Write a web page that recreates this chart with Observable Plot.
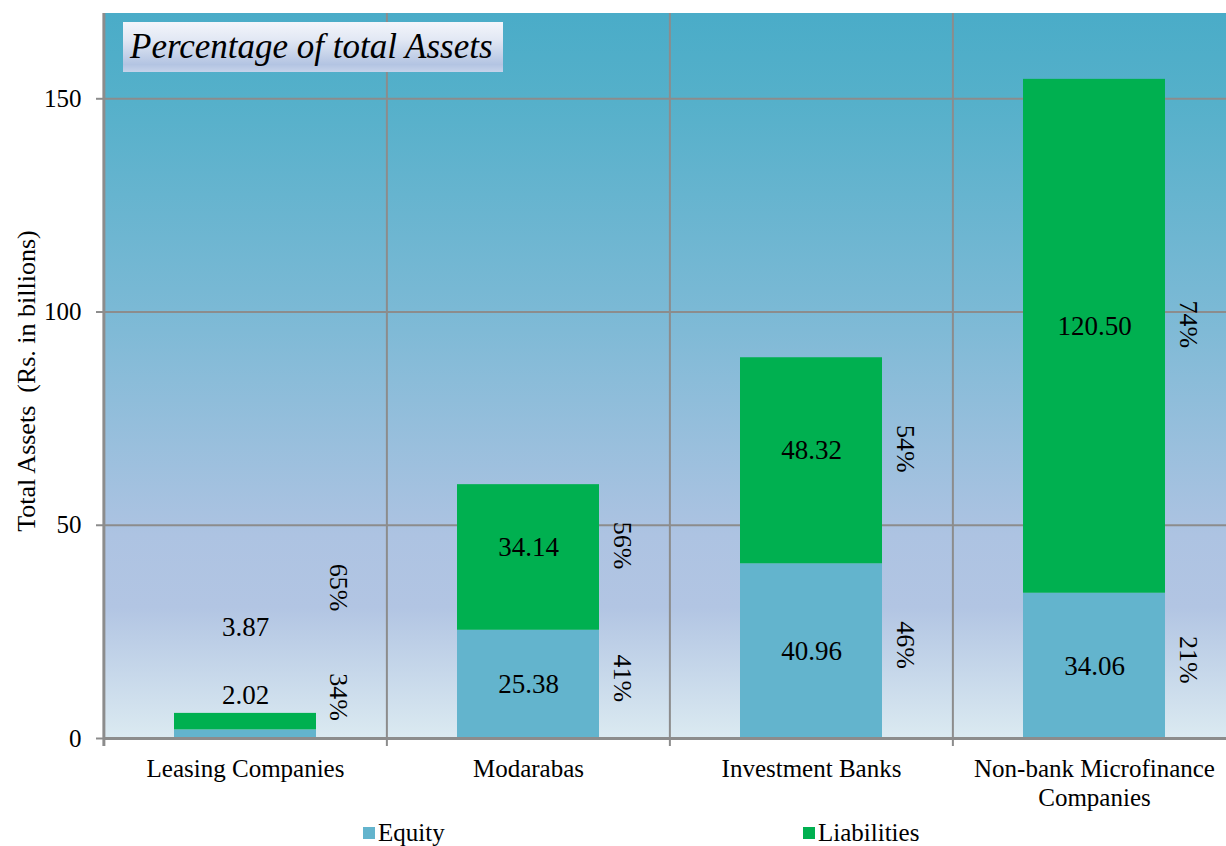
<!DOCTYPE html>
<html><head><meta charset="utf-8">
<script src="https://cdn.jsdelivr.net/npm/d3@7"></script>
<script src="https://cdn.jsdelivr.net/npm/@observablehq/plot@0.6"></script>
<style>
body{margin:0;background:#fff;font-family:"Liberation Serif","Times New Roman",serif;overflow:hidden}
#wrap{position:relative;width:1226px;height:846px;overflow:hidden}
#chart{position:absolute;left:0;top:0;width:1236px}
#chart svg{max-width:none !important}
#chart text{font-family:"Liberation Serif","Times New Roman",serif}
#title{position:absolute;left:123px;top:22px;width:380px;height:50px;background:linear-gradient(#f3f5fb,#e2e8f4 35%,#b3c4e2 85%,#c6d3ea);font-style:italic;font-size:35px;line-height:50px;padding-left:7px;box-sizing:border-box;color:#000;white-space:nowrap}
#legend{position:absolute;top:819px;left:0;width:1226px;height:28px;font-size:25px;color:#000}
.item{position:absolute;top:0;display:flex;align-items:center;height:28px}
.sw{width:12px;height:12px;margin-right:3px}
</style></head><body>
<div id="wrap"><div id="chart"></div><div id="title">Percentage of total Assets</div><div id="legend"></div></div>
<script>
// ---- data ----
const categories = ["Leasing Companies", "Modarabas", "Investment Banks", "Non-bank Microfinance\nCompanies"];
const equity = [2.02, 25.38, 40.96, 34.06];
const liabilities = [3.87, 34.14, 48.32, 120.50];
const equityPct = ["34%", "41%", "46%", "21%"];
const liabilitiesPct = ["65%", "56%", "54%", "74%"];
const series = ["Equity", "Liabilities"];
const colors = ["#63b4cd", "#00b050"];
const yTicks = [0, 50, 100, 150];
const yTitle = "Total Assets  (Rs. in billions)";

// ---- table ----
const rows = [];
categories.forEach((c, i) => {
  rows.push({category: c, idx: i, series: "Equity", value: equity[i], pct: equityPct[i], mid: equity[i] / 2});
  rows.push({category: c, idx: i, series: "Liabilities", value: liabilities[i], pct: liabilitiesPct[i], mid: equity[i] + liabilities[i] / 2});
});

const W = 1236, H = 818, ML = 103, MR = 0, MT = 13, MB = 80;
const step = (W - ML - MR) / categories.length;
const grid = "#8c8c8c";
const serif = "Liberation Serif";

const sel = (s, small) => rows.filter(d => d.series === s && (small ? d.idx === 0 : d.idx > 0));
const fmt = d => d.value.toFixed(2);

const background = (index, scales, values, dims) => {
  const g = d3.create("svg:g");
  const lg = g.append("defs").append("linearGradient").attr("id", "bgGrad")
    .attr("x1", 0).attr("y1", 0).attr("x2", 0).attr("y2", 1);
  [[0, "#4aacc8"], [0.12, "#55b0ca"], [0.41, "#7bb9d5"], [0.72, "#adc3e2"], [0.82, "#b2c5e3"], [1, "#dbeaf1"]]
    .forEach(([o, c]) => lg.append("stop").attr("offset", o).attr("stop-color", c));
  g.append("rect").attr("x", dims.marginLeft).attr("y", dims.marginTop)
    .attr("width", dims.width - dims.marginLeft - dims.marginRight)
    .attr("height", dims.height - dims.marginTop - dims.marginBottom)
    .attr("fill", "url(#bgGrad)");
  return g.node();
};

const chart = Plot.plot({
  width: W, height: H,
  marginLeft: ML, marginRight: MR, marginTop: MT, marginBottom: MB,
  style: {fontFamily: "'Liberation Serif', 'Times New Roman', serif", color: "#000", background: "transparent", overflow: "visible", maxWidth: "none"},
  x: {domain: categories, paddingInner: 0.5, paddingOuter: 0.25, axis: null},
  y: {domain: [0, 170], axis: null},
  color: {domain: series, range: colors},
  marks: [
    background,
    Plot.ruleY(yTicks.slice(1), {stroke: grid, strokeWidth: 2}),
    Plot.ruleX(categories.slice(1), {dx: -step / 2, insetBottom: -8, stroke: grid, strokeWidth: 2}),
    Plot.barY(rows, {x: "category", y: "value", fill: "series"}),
    Plot.ruleX([categories[0]], {dx: -step / 2, insetBottom: -8, stroke: grid, strokeWidth: 3}),
    Plot.ruleY([0], {stroke: grid, strokeWidth: 3}),
    Plot.axisY(yTicks, {tickSize: 7, tickPadding: 15, fontSize: 25, fontFamily: serif, stroke: grid, strokeWidth: 2, fill: "#000", label: null}),
    Plot.axisX({tickSize: 0, tickPadding: 18, fontSize: 25, fontFamily: serif, lineHeight: 1.16, fill: "#000", label: null}),
    Plot.text([yTitle], {frameAnchor: "left", textAnchor: "middle", text: d => d, rotate: -90, dx: -77, dy: 5, fontSize: 26, fontFamily: serif, fill: "#000"}),
    // value labels
    Plot.text(sel("Equity"), {x: "category", y: "mid", text: fmt, fontSize: 27, fontFamily: serif, fill: "#000"}),
    Plot.text(sel("Liabilities"), {x: "category", y: "mid", text: fmt, fontSize: 27, fontFamily: serif, dy: -10, fill: "#000"}),
    Plot.text(sel("Equity", true), {x: "category", y: "mid", text: fmt, fontSize: 27, fontFamily: serif, dy: -39, fill: "#000"}),
    Plot.text(sel("Liabilities", true), {x: "category", y: "mid", text: fmt, fontSize: 27, fontFamily: serif, dy: -94, fill: "#000"}),
    // percentage labels
    Plot.text(sel("Equity"), {x: "category", y: "mid", text: "pct", fontSize: 26, fontFamily: serif, rotate: 90, dx: 94, dy: -6, fill: "#000"}),
    Plot.text(sel("Liabilities"), {x: "category", y: "mid", text: "pct", fontSize: 26, fontFamily: serif, rotate: 90, dx: 94, dy: -12, fill: "#000"}),
    Plot.text(sel("Equity", true), {x: "category", y: "mid", text: "pct", fontSize: 26, fontFamily: serif, rotate: 90, dx: 93, dy: -37, fill: "#000"}),
    Plot.text(sel("Liabilities", true), {x: "category", y: "mid", text: "pct", fontSize: 26, fontFamily: serif, rotate: 90, dx: 93, dy: -134, fill: "#000"})
  ]
});
document.getElementById("chart").appendChild(chart);

// legend
const legend = document.getElementById("legend");
const legendX = [363, 803];
series.forEach((s, i) => {
  const it = document.createElement("div");
  it.className = "item";
  it.style.left = legendX[i] + "px";
  it.innerHTML = `<span class="sw" style="background:${colors[i]}"></span><span>${s}</span>`;
  legend.appendChild(it);
});
</script>
</body></html>
